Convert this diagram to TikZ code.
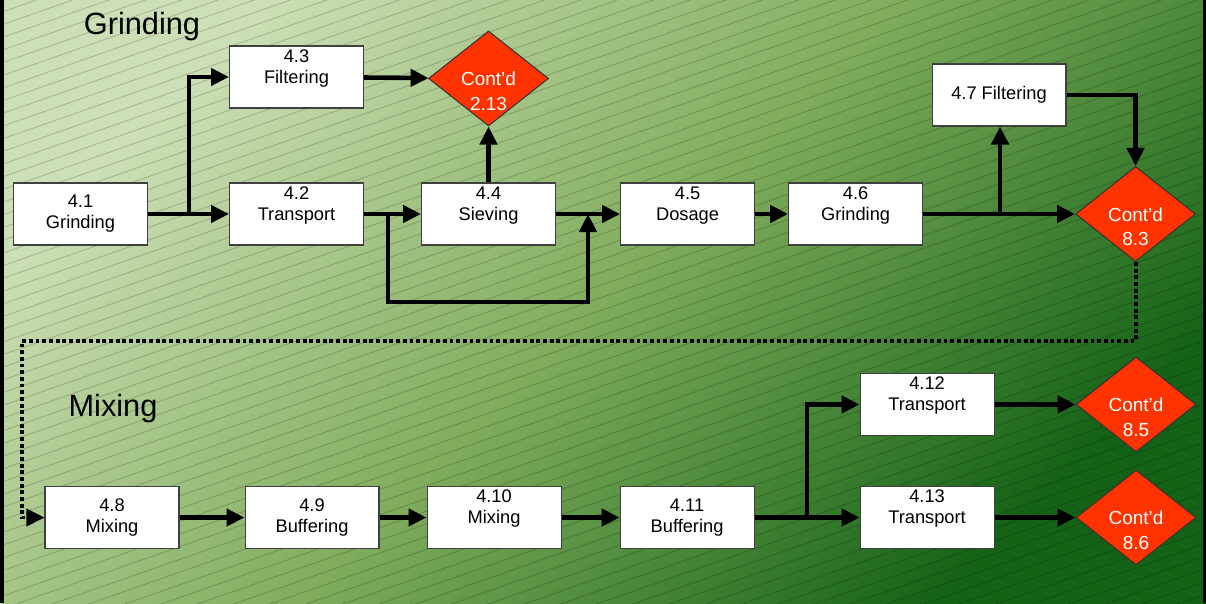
\documentclass[tikz,border=0pt]{standalone}
\usepackage{fontspec}
\setmainfont{Liberation Sans}
\usepackage{tikz}
\usetikzlibrary{shapes.geometric,arrows.meta,positioning}

\definecolor{bgtop}{RGB}{205,223,182}
\definecolor{bgmid}{RGB}{128,172,92}
\definecolor{bgbot}{RGB}{20,98,22}
\definecolor{contred}{RGB}{255,51,0}

\newcommand{\contd}[1]{\raisebox{-11pt}[0pt][0pt]{\begin{tabular}{@{}c@{}}Cont’d\\#1\end{tabular}}}

\begin{document}
\begin{tikzpicture}[x=0.02cm, y=-0.02cm, thick]
    % Stili dei nodi
    \tikzstyle{stage}=[rectangle, draw=black!75, line width=0.6pt, fill=white, minimum width=2.68cm, minimum height=1.24cm, inner sep=0pt, align=center, font=\fontsize{10.4}{12}\selectfont]
    \tikzstyle{contd}=[diamond, draw=black!80, line width=0.6pt, fill=contred, text=white, minimum width=2.4cm, minimum height=1.9cm, inner sep=0pt, font=\fontsize{10.8}{14}\selectfont]
    \tikzstyle{blocktitle}=[font=\fontsize{17.5}{20}\selectfont]
    \tikzstyle{arrow}=[line width=2.6pt, -{Triangle[length=0.36cm, width=0.34cm]}]
    \tikzstyle{dotlink}=[line width=2.2pt, dash pattern=on 2.2pt off 1.6pt, -{Triangle[length=0.36cm, width=0.34cm]}]

    \useasboundingbox (0,0) rectangle (1206,603);

    % Sfondo
    \shade[top color=bgtop, bottom color=bgbot, middle color=bgmid, shading angle=45] (0,0) rectangle (1206,603);
    \begin{scope}
        \clip (0,0) rectangle (1206,603);
        \foreach \c in {0,12.7,...,1050}
            \draw[black, opacity=0.18, line width=0.5pt] (0,\c) -- (1206,\c-422);
    \end{scope}
    \fill[black] (0,0) rectangle (4,603);
    \fill[black] (1203,0) rectangle (1206,603);

    % Titoli
    \node[blocktitle] (tgrind) at (142,27) {Grinding};
    \node[blocktitle] (tmix) at (113,409) {Mixing};

    % Nodi - Grinding
    \node[stage] (g41) at (80.5,214) {4.1\\Grinding};
    \node[stage, right=1.62cm of g41] (g42) {4.2\\Transport\\\mbox{}};
    \node[stage, above=1.48cm of g42] (g43) {4.3\\Filtering\\\mbox{}};
    \node[stage, right=1.14cm of g42] (g44) {4.4\\Sieving\\\mbox{}};
    \node[contd, above=1.12cm of g44] (c213) {\contd{2.13}};
    \node[stage, right=1.28cm of g44] (g45) {4.5\\Dosage\\\mbox{}};
    \node[stage, right=0.66cm of g45] (g46) {4.6\\Grinding\\\mbox{}};
    \node[contd, right=3.04cm of g46] (c83) {\contd{8.3}};
    \node[stage] (g47) at (999,95) {4.7 Filtering};

    % Nodi - Mixing
    \node[stage] (m48) at (112,517.5) {4.8\\Mixing};
    \node[stage, right=1.3cm of m48] (m49) {4.9\\Buffering};
    \node[stage, right=0.94cm of m49] (m410) {4.10\\Mixing\\\mbox{}};
    \node[stage, right=1.16cm of m410] (m411) {4.11\\Buffering};
    \node[stage, right=2.1cm of m411] (m413) {4.13\\Transport\\\mbox{}};
    \node[stage, above=1.0cm of m413] (m412) {4.12\\Transport\\\mbox{}};
    \node[contd, right=1.62cm of m412] (c85) {\contd{8.5}};
    \node[contd, right=1.62cm of m413] (c86) {\contd{8.6}};

    % Collegamenti - Grinding
    \coordinate (j41) at (189,214);
    \coordinate (jb1) at (388,214);
    \coordinate (jb2) at (588,214);
    \coordinate (j46) at (1000,214);
    \draw[arrow] (g41) -- (g42);
    \draw[arrow] (j41) |- (g43);
    \draw[arrow] (g43) -- (c213);
    \draw[arrow] (g42) -- (g44);
    \draw[arrow] (g44) -- (c213);
    \draw[arrow] (jb1) -- ++(0,88) -| (jb2);
    \draw[arrow] (g44) -- (g45);
    \draw[arrow] (g45) -- (g46);
    \draw[arrow] (g46) -- (c83);
    \draw[arrow] (j46) -- (j46 |- g47.south);
    \draw[arrow] (g47) -| (c83);

    % Continua
    \coordinate (d1) at (22,341);
    \draw[dotlink] (c83) |- (d1) |- (m48);

    % Collegamenti - Mixing
    \coordinate (j411) at (807,517.5);
    \draw[arrow] (m48) -- (m49);
    \draw[arrow] (m49) -- (m410);
    \draw[arrow] (m410) -- (m411);
    \draw[arrow] (m411) -- (m413);
    \draw[arrow] (j411) |- (m412);
    \draw[arrow] (m412) -- (c85);
    \draw[arrow] (m413) -- (c86);
\end{tikzpicture}
\end{document}
